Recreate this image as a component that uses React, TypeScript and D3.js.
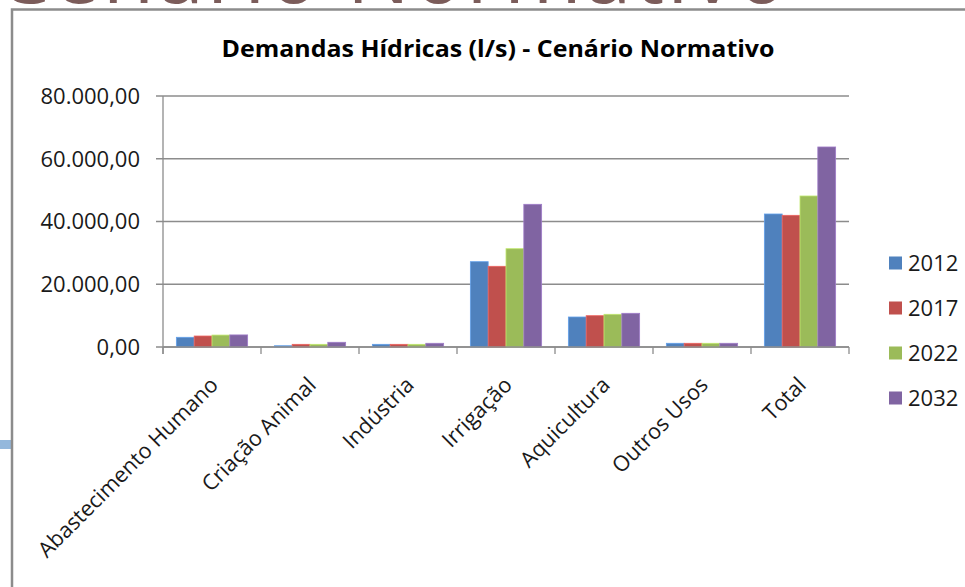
import React from "react";
import * as d3 from "d3";

const categories = [
  "Abastecimento Humano",
  "Criação Animal",
  "Indústria",
  "Irrigação",
  "Aquicultura",
  "Outros Usos",
  "Total",
];
const years = ["2012", "2017", "2022", "2032"];
const values2012 = [3090, 400, 850, 27190, 9560, 1180, 42390];
const values2017 = [3500, 850, 850, 25720, 9980, 1180, 41970];
const values2022 = [3800, 850, 850, 31330, 10420, 1180, 48130];
const values2032 = [3850, 1500, 1180, 45480, 10740, 1180, 63750];
const yTicks = [0, 20000, 40000, 60000, 80000];
const colors = ["#4f81bd", "#c0504d", "#9bbb59", "#8064a2"];

const W = 965;
const H = 587;
const FONT = "'Open Sans', sans-serif";

const series = [values2012, values2017, values2022, values2032];

const fmt = (v: number) => {
  const s = d3.format(",.2f")(v);
  return s.replace(/,/g, "#").replace(".", ",").replace(/#/g, ".");
};

export default function App() {
  const x0 = d3
    .scaleBand<string>()
    .domain(categories)
    .range([163, 849])
    .paddingInner(0.2727)
    .paddingOuter(0.13636);
  const x1 = d3
    .scaleBand<string>()
    .domain(years)
    .range([0, x0.bandwidth()])
    .padding(0);
  const y = d3.scaleLinear().domain([0, 80000]).range([347, 96]);
  const step = x0.step();
  const left = 163;
  const right = 849;
  const grid = "#8c8c8c";

  return (
    <svg
      width={W}
      height={H}
      style={{ position: "absolute", left: 0, top: 0, background: "#fff" }}
      fontFamily={FONT}
    >
      <rect x={0} y={0} width={W} height={H} fill="#fff" />
      {/* slide heading, clipped by the top edge */}
      <text
        x={790}
        y={3}
        textAnchor="end"
        fontSize={84}
        fill="#7b5c5a"
        letterSpacing={3}
      >
        Cenário Normativo
      </text>
      <rect x={0} y={440} width={12} height={9} fill="#94b8dc" />
      {/* chart frame */}
      <rect
        x={12}
        y={9.5}
        width={W + 20}
        height={H + 20}
        fill="#fff"
        stroke="#8c8c8c"
        strokeWidth={2.5}
      />
      <text
        x={498}
        y={57}
        textAnchor="middle"
        fontSize={24}
        fontWeight="bold"
        fill="#000"
        textLength={553}
        lengthAdjust="spacingAndGlyphs"
      >
        Demandas Hídricas (l/s) - Cenário Normativo
      </text>

      {/* gridlines and y axis */}
      {yTicks.map((t) => (
        <g key={t}>
          <line
            x1={156}
            x2={right}
            y1={y(t)}
            y2={y(t)}
            stroke={grid}
            strokeWidth={1.3}
          />
          <text
            x={140}
            y={y(t)}
            dy="0.36em"
            textAnchor="end"
            fontSize={22}
            fill="#1a1a1a"
          >
            {fmt(t)}
          </text>
        </g>
      ))}
      <line x1={left} x2={left} y1={y(80000)} y2={y(0) + 7} stroke={grid} strokeWidth={1.3} />

      {/* bars */}
      {categories.map((c, i) => (
        <g key={c} transform={`translate(${x0(c)},0)`}>
          {years.map((yr, j) => {
            const v = series[j][i];
            return (
              <rect
                key={yr}
                x={x1(yr)}
                y={y(v)}
                width={x1.bandwidth()}
                height={y(0) - y(v)}
                fill={colors[j]}
                stroke={d3.color(colors[j])!.brighter(0.6).formatHex()}
                strokeWidth={0.8}
              />
            );
          })}
        </g>
      ))}

      {/* x axis */}
      <line x1={left} x2={right} y1={y(0)} y2={y(0)} stroke={grid} strokeWidth={1.3} />
      {d3.range(categories.length + 1).map((k) => (
        <line
          key={k}
          x1={left + k * step}
          x2={left + k * step}
          y1={y(0)}
          y2={y(0) + 7}
          stroke={grid}
          strokeWidth={1.3}
        />
      ))}
      {categories.map((c) => {
        const cx = (x0(c) as number) + x0.bandwidth() / 2;
        return (
          <text
            key={c}
            transform={`translate(${cx + 2},${381}) rotate(-45)`}
            textAnchor="end"
            dy="0.35em"
            fontSize={21.6}
            fill="#1a1a1a"
          >
            {c}
          </text>
        );
      })}

      {/* legend */}
      {years.map((yr, j) => (
        <g key={yr} transform={`translate(889,${263 + j * 45})`}>
          <rect x={0} y={-6.5} width={13} height={13} fill={colors[j]} />
          <text x={19} y={0} dy="0.36em" fontSize={22} fill="#1a1a1a">
            {yr}
          </text>
        </g>
      ))}
    </svg>
  );
}
